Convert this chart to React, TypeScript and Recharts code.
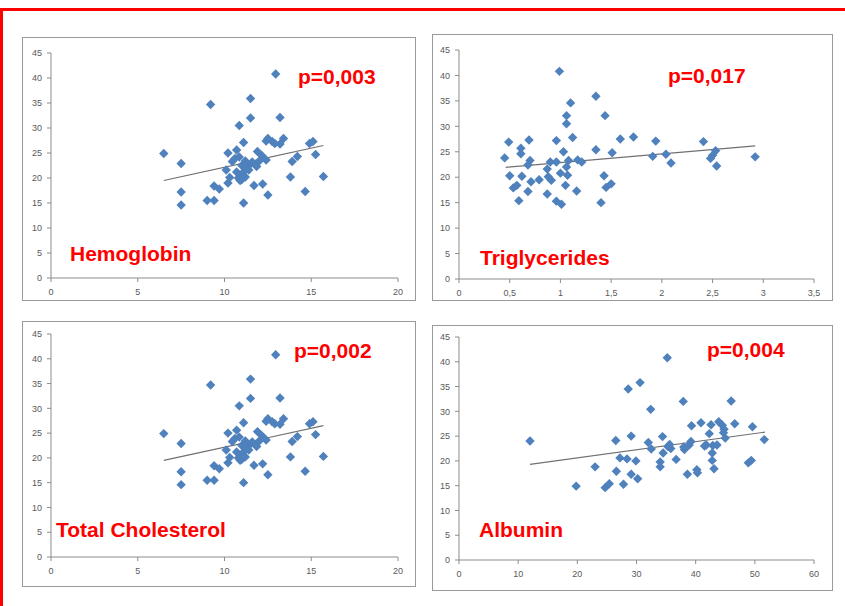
import React from 'react';
import { ScatterChart, Scatter, XAxis, YAxis, ReferenceLine } from 'recharts';

// ---- data ----
const yTicks = [0, 5, 10, 15, 20, 25, 30, 35, 40, 45];
const hemoTicks = [0, 5, 10, 15, 20];
const trigTicks = [0, 0.5, 1, 1.5, 2, 2.5, 3, 3.5];
const albTicks = [0, 10, 20, 30, 40, 50, 60];

const hemoglobinPoints: number[][] = [
  [6.5, 24.9], [7.5, 22.9], [7.5, 17.2], [7.5, 14.6], [9.2, 34.7], [9.0, 15.5], [9.4, 15.5],
  [9.4, 18.4], [9.7, 17.8], [10.2, 25.0], [10.1, 21.6], [10.2, 19.0], [10.3, 20.1], [10.45, 23.3],
  [10.7, 25.6], [10.85, 30.5], [10.85, 24.2], [11.1, 27.1], [11.1, 15.0], [11.5, 35.9], [11.5, 32.0],
  [11.3, 22.9], [11.7, 18.5], [11.85, 22.3], [11.9, 25.3], [12.15, 24.5], [12.2, 18.8], [12.4, 23.6],
  [12.4, 27.4], [12.5, 16.6], [12.5, 27.9], [12.75, 27.3], [12.95, 40.8], [12.9, 26.9], [13.2, 32.1],
  [13.2, 26.8], [13.4, 27.9], [13.8, 20.2], [13.9, 23.3], [14.2, 24.3], [14.65, 17.3], [14.9, 26.9],
  [15.1, 27.3], [15.25, 24.7], [15.7, 20.3], [10.8, 20.0], [10.9, 19.5], [11.0, 20.6], [11.1, 21.2],
  [11.2, 20.2], [11.3, 22.3], [11.5, 22.8], [11.6, 23.2], [11.0, 22.5], [10.7, 21.2], [11.8, 22.6],
  [12.0, 23.4], [11.4, 21.6], [10.6, 23.9], [11.0, 19.7], [11.2, 23.4],
];
const hemoglobinTrend: number[][] = [[6.5, 19.5], [15.7, 26.5]];

const triglyceridePoints: number[][] = [
  [0.45, 23.8], [0.49, 26.9], [0.5, 20.3], [0.535, 17.9], [0.57, 18.4], [0.59, 15.4], [0.61, 25.7],
  [0.61, 24.6], [0.62, 20.2], [0.68, 17.2], [0.69, 27.3], [0.7, 23.3], [0.68, 22.4], [0.71, 19.1],
  [0.79, 19.5], [0.87, 16.7], [0.87, 21.6], [0.88, 20.1], [0.9, 23.0], [0.91, 19.4], [0.96, 27.2],
  [0.96, 23.0], [0.96, 15.3], [0.99, 40.8], [1.0, 20.8], [1.01, 14.7], [1.03, 25.0], [1.06, 32.1],
  [1.06, 30.5], [1.06, 22.0], [1.07, 20.4], [1.05, 18.4], [1.08, 23.3], [1.1, 34.6], [1.12, 27.8],
  [1.16, 17.3], [1.17, 23.4], [1.21, 23.0], [1.35, 35.9], [1.35, 25.4], [1.43, 20.3], [1.44, 32.1],
  [1.45, 18.0], [1.4, 15.0], [1.5, 18.7], [1.51, 24.8], [1.59, 27.5], [1.72, 27.9], [1.91, 24.1],
  [1.94, 27.1], [2.04, 24.5], [2.09, 22.8], [2.41, 27.0], [2.48, 23.7], [2.53, 25.2], [2.54, 22.2],
  [2.5, 24.3], [2.92, 24.0],
];
const triglycerideTrend: number[][] = [[0.46, 21.95], [2.92, 26.15]];

const cholesterolPoints: number[][] = hemoglobinPoints;
const cholesterolTrend: number[][] = hemoglobinTrend;

const albuminPoints: number[][] = [
  [12, 24.0], [19.8, 14.9], [23, 18.8], [24.7, 14.6], [25.4, 15.4], [26.5, 24.1], [26.6, 17.9],
  [27.2, 20.6], [27.8, 15.3], [28.4, 20.4], [28.6, 34.5], [29.1, 25.0], [29.1, 17.3], [29.9, 20.0],
  [30.2, 16.4], [30.6, 35.8], [32.0, 23.7], [32.4, 30.4], [32.5, 22.4], [34.0, 19.8], [34.0, 18.8],
  [34.4, 24.9], [34.5, 21.6], [35.2, 40.8], [35.3, 22.9], [35.8, 22.5], [36.7, 20.3], [37.9, 32.0],
  [38.1, 22.3], [38.6, 17.3], [38.9, 23.2], [39.2, 23.9], [39.3, 27.1], [40.2, 18.2], [40.3, 17.6],
  [40.9, 27.7], [41.5, 23.0], [42.3, 25.5], [42.6, 27.3], [42.8, 21.6], [42.8, 20.1], [43.1, 18.4],
  [43.6, 23.2], [43.9, 27.9], [44.5, 27.2], [44.7, 25.7], [45.0, 24.6], [46.0, 32.1], [46.6, 27.5],
  [48.9, 19.6], [49.4, 20.1], [49.6, 26.9], [51.6, 24.3], [44.8, 26.4], [38.0, 22.8], [42.9, 23.1],
  [41.8, 23.2], [35.6, 23.3],
];
const albuminTrend: number[][] = [[12, 19.3], [51.7, 25.8]];

const panelNames = ['Hemoglobin', 'Triglycerides', 'Total Cholesterol', 'Albumin'];
const pValues = ['p=0,003', 'p=0,017', 'p=0,002', 'p=0,004'];

// ---- styles ----
const BLUE = '#4f81bd';
const AXIS = '#8c8c8c';
const tickStyle = { fontSize: 9, fill: '#595959', fontFamily: 'Liberation Sans, Arial, sans-serif' };

const Diamond = (props: any) => {
  const { cx, cy } = props;
  if (cx == null || cy == null) return <g />;
  const r = 4.7;
  return <path d={`M${cx},${cy - r}L${cx + r},${cy}L${cx},${cy + r}L${cx - r},${cy}Z`} fill={BLUE} />;
};

const fmt = (v: number) => String(v).replace('.', ',');

type Cfg = {
  left: number; top: number; width: number; height: number;
  yAxisWidth: number; xAxisHeight: number;
  margin: { top: number; right: number; left: number; bottom: number };
  xDomain: number[]; xTicks: number[];
  points: number[][]; trend: number[][];
};

const Panel = ({ cfg }: { cfg: Cfg }) => {
  const data = cfg.points.map(([x, y]) => ({ x, y }));
  return (
    <div
      style={{
        position: 'absolute', left: cfg.left, top: cfg.top, width: cfg.width, height: cfg.height,
        border: '1px solid #9a9a9a', boxSizing: 'border-box', background: '#fff',
      }}
    >
      <ScatterChart width={cfg.width - 2} height={cfg.height - 2} margin={cfg.margin}>
        <XAxis
          type="number" dataKey="x" domain={cfg.xDomain} ticks={cfg.xTicks} interval={0}
          tickFormatter={fmt} height={cfg.xAxisHeight} axisLine={{ stroke: AXIS }}
          tickLine={{ stroke: AXIS }} tickSize={4} tickMargin={7} tick={tickStyle}
        />
        <YAxis
          type="number" dataKey="y" domain={[0, 45]} ticks={yTicks} interval={0}
          width={cfg.yAxisWidth} axisLine={{ stroke: AXIS }} tickLine={{ stroke: AXIS }}
          tickSize={4} tickMargin={5} tick={tickStyle}
        />
        <Scatter data={data} shape={Diamond} isAnimationActive={false} />
        <ReferenceLine
          segment={[{ x: cfg.trend[0][0], y: cfg.trend[0][1] }, { x: cfg.trend[1][0], y: cfg.trend[1][1] }]}
          stroke="#707070" strokeWidth={1.2}
        />
      </ScatterChart>
    </div>
  );
};

const labelStyle: React.CSSProperties = {
  position: 'absolute', color: '#ff0000', fontWeight: 'bold', fontSize: 21, lineHeight: '21px',
  fontFamily: 'Liberation Sans, Arial, sans-serif', whiteSpace: 'nowrap',
};

const panels: Cfg[] = [
  {
    left: 22, top: 37, width: 394, height: 264, yAxisWidth: 28, xAxisHeight: 22,
    margin: { top: 15, right: 17, left: 0, bottom: 0 }, xDomain: [0, 20], xTicks: hemoTicks,
    points: hemoglobinPoints, trend: hemoglobinTrend,
  },
  {
    left: 432, top: 34, width: 401, height: 267, yAxisWidth: 26, xAxisHeight: 21,
    margin: { top: 15, right: 18, left: 0, bottom: 0 }, xDomain: [0, 3.5], xTicks: trigTicks,
    points: triglyceridePoints, trend: triglycerideTrend,
  },
  {
    left: 22, top: 321, width: 394, height: 266, yAxisWidth: 28, xAxisHeight: 29,
    margin: { top: 12, right: 17, left: 0, bottom: 0 }, xDomain: [0, 20], xTicks: hemoTicks,
    points: cholesterolPoints, trend: cholesterolTrend,
  },
  {
    left: 432, top: 325, width: 401, height: 266, yAxisWidth: 26, xAxisHeight: 30,
    margin: { top: 11, right: 18, left: 0, bottom: 0 }, xDomain: [0, 60], xTicks: albTicks,
    points: albuminPoints, trend: albuminTrend,
  },
];

const namePos = [[70, 243], [480, 247], [56, 519], [479, 519]];
const pPos = [[298, 66], [668, 65], [294, 340], [707, 339]];

export default function App() {
  return (
    <div style={{ position: 'absolute', left: 0, top: 0, width: 845, height: 606, background: '#fff', overflow: 'hidden' }}>
      <div style={{ position: 'absolute', left: 0, top: 8, width: 845, height: 3, background: '#ff0000' }} />
      <div style={{ position: 'absolute', left: 0, top: 8, width: 3, height: 598, background: '#ff0000' }} />
      {panels.map((cfg, i) => (
        <Panel key={i} cfg={cfg} />
      ))}
      {panelNames.map((n, i) => (
        <div key={'n' + i} style={{ ...labelStyle, left: namePos[i][0], top: namePos[i][1] }}>{n}</div>
      ))}
      {pValues.map((p, i) => (
        <div key={'p' + i} style={{ ...labelStyle, left: pPos[i][0], top: pPos[i][1] }}>{p}</div>
      ))}
    </div>
  );
}
